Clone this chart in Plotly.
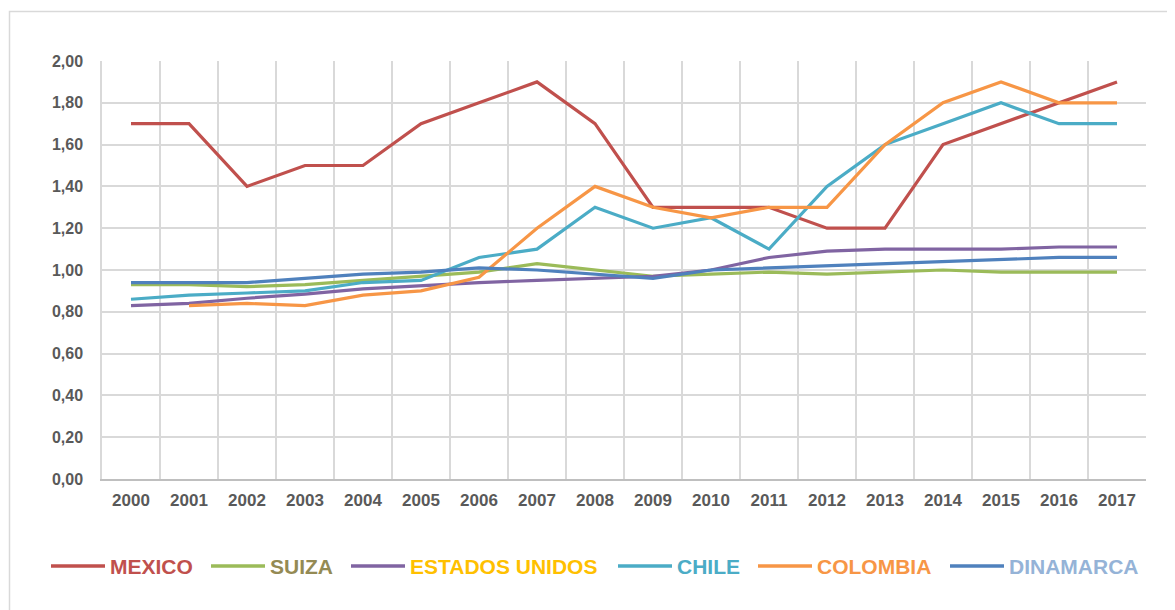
import plotly.graph_objects as go

years = [str(y) for y in range(2000, 2018)]

mexico    = [1.70, 1.70, 1.40, 1.50, 1.50, 1.70, 1.80, 1.90, 1.70, 1.30, 1.30, 1.30, 1.20, 1.20, 1.60, 1.70, 1.80, 1.90]
suiza     = [0.93, 0.93, 0.92, 0.93, 0.95, 0.97, 0.99, 1.03, 1.00, 0.97, 0.98, 0.99, 0.98, 0.99, 1.00, 0.99, 0.99, 0.99]
eeuu      = [0.83, 0.84, 0.865, 0.885, 0.91, 0.925, 0.94, 0.95, 0.96, 0.97, 1.00, 1.06, 1.09, 1.10, 1.10, 1.10, 1.11, 1.11]
chile     = [0.86, 0.88, 0.89, 0.90, 0.94, 0.95, 1.06, 1.10, 1.30, 1.20, 1.25, 1.10, 1.40, 1.60, 1.70, 1.80, 1.70, 1.70]
colombia  = [None, 0.83, 0.84, 0.83, 0.88, 0.90, 0.965, 1.20, 1.40, 1.30, 1.25, 1.30, 1.30, 1.60, 1.80, 1.90, 1.80, 1.80]
dinamarca = [0.94, 0.94, 0.94, 0.96, 0.98, 0.99, 1.01, 1.00, 0.98, 0.96, 1.00, 1.01, 1.02, 1.03, 1.04, 1.05, 1.06, 1.06]

series_names = ["MEXICO", "SUIZA", "ESTADOS UNIDOS", "CHILE", "COLOMBIA", "DINAMARCA"]
series_values = [mexico, suiza, eeuu, chile, colombia, dinamarca]

# styles
line_colors = ["#C0504D", "#9BBB59", "#8064A2", "#4BACC6", "#F79646", "#4F81BD"]
label_colors = ["#C0504D", "#948A54", "#FFC000", "#4BACC6", "#F79646", "#95B3D7"]
legend_line_x0 = [51, 211, 351, 618, 758, 950]  # page pixel positions of legend samples

OFF = 8                      # page body margin
W, H = 1175 - OFF, 610 - OFF
L, R, T, B = 102 - OFF, 29, 61 - OFF, 131
pw, ph = W - L - R, H - T - B

def px_x(p):                 # page pixel -> paper fraction
    return (p - OFF - L) / pw

def px_y(p):
    return (H - B - (p - OFF)) / ph

fig = go.Figure()
for name, vals, col in zip(series_names, series_values, line_colors):
    fig.add_trace(go.Scatter(
        x=years, y=vals, name=name, mode="lines",
        line=dict(color=col, width=3.2),
        showlegend=False,
    ))

fig.update_layout(
    width=W, height=H,
    margin=dict(l=L, r=R, t=T, b=B),
    paper_bgcolor="white", plot_bgcolor="white",
    separators=",.",
    font=dict(family="Liberation Sans"),
    xaxis=dict(
        type="category", range=[-0.5, 17.5], tickson="boundaries",
        showgrid=True, gridcolor="#D9D9D9", gridwidth=1.5,
        showline=True, linecolor="#BFBFBF", linewidth=1.5,
        ticks="", ticklabelstandoff=5,
        tickfont=dict(family="Liberation Sans", size=17, color="#595959", weight="bold"),
    ),
    yaxis=dict(
        range=[0, 2.0], dtick=0.2, tick0=0, tickformat=".2f",
        showgrid=True, gridcolor="#D9D9D9", gridwidth=1.5,
        showline=True, linecolor="#D9D9D9", linewidth=1.5,
        zeroline=False, ticks="", ticklabelstandoff=14,
        tickfont=dict(family="Liberation Sans", size=16, color="#595959", weight="bold"),
    ),
)

# outer chart frame
fig.add_shape(type="rect", xref="paper", yref="paper",
              x0=px_x(9.5), x1=px_x(1200), y0=px_y(640), y1=px_y(11.5),
              line=dict(color="#D9D9D9", width=1.5), layer="below")

# custom legend
leg_y = px_y(566)
for name, lc, tc, x0 in zip(series_names, line_colors, label_colors, legend_line_x0):
    fig.add_shape(type="line", xref="paper", yref="paper",
                  x0=px_x(x0), x1=px_x(x0 + 54), y0=leg_y, y1=leg_y,
                  line=dict(color=lc, width=3.5))
    fig.add_annotation(xref="paper", yref="paper", x=px_x(x0 + 57), y=leg_y,
                       xanchor="left", yanchor="middle", showarrow=False,
                       text="<b>" + name + "</b>",
                       font=dict(family="Liberation Sans", size=21, color=tc))

fig.write_html("out.html")
